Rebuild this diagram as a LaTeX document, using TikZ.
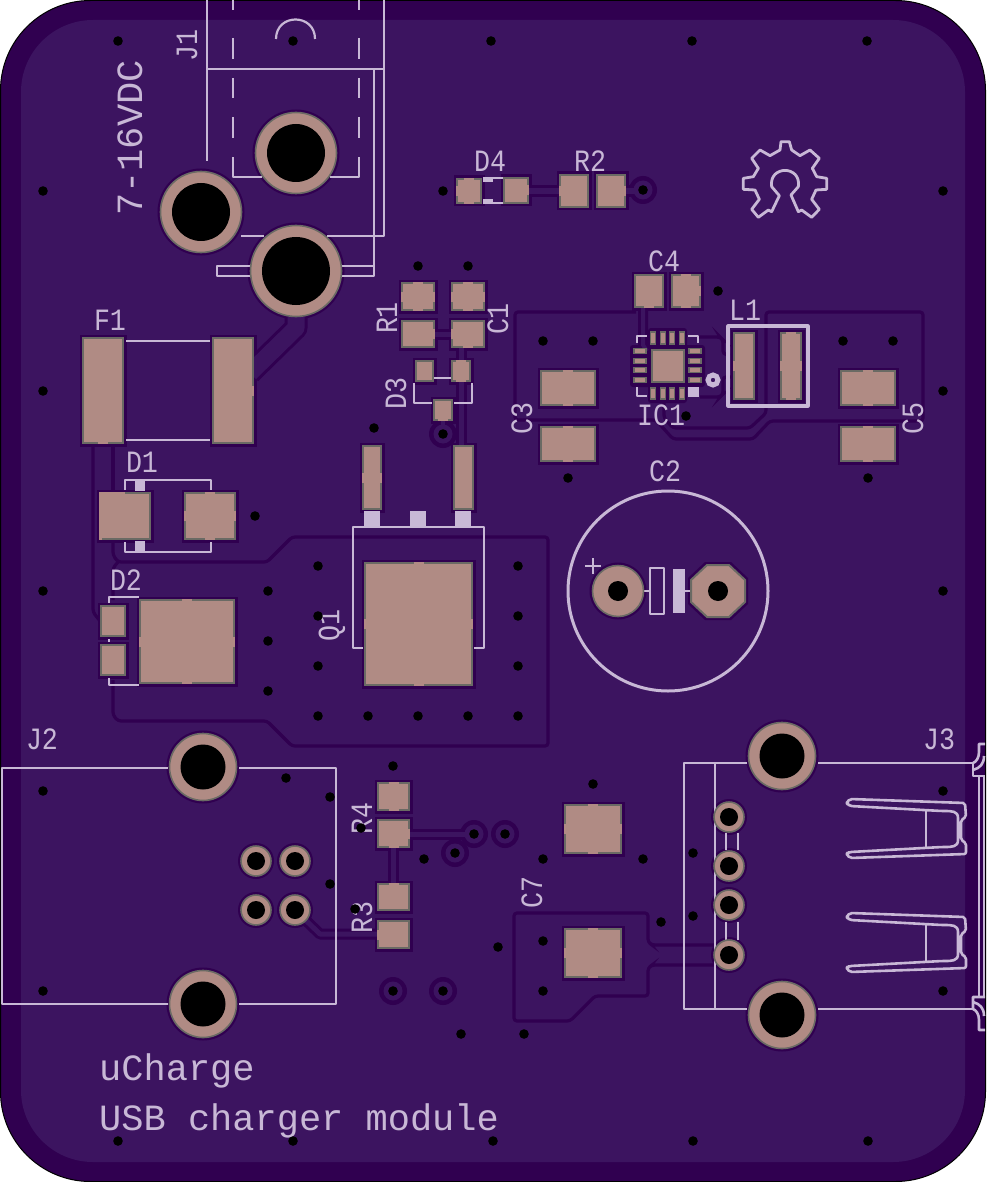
\documentclass[tikz,border=0pt]{standalone}
\usepackage{fontspec}
\newfontfamily\silkfont[FakeStretch=.86]{Liberation Mono}
\newfontfamily\notefont{Liberation Mono}

\definecolor{boardout}{HTML}{300050}
\definecolor{boardin}{HTML}{3C1460}
\definecolor{padcol}{HTML}{B08B84}
\definecolor{padedge}{HTML}{6A6A64}
\definecolor{silkcol}{HTML}{C8B8D6}

\pgfdeclarelayer{base}
\pgfdeclarelayer{halo}
\pgfdeclarelayer{copper}
\pgfsetlayers{base,halo,copper,main}

\tikzset{
    silk/.style={draw=silkcol,line width=2.6pt,line join=round},
    silkthin/.style={silk,line width=2.2pt},
    silkbar/.style={fill=silkcol},
    label/.style={text=silkcol,inner sep=0pt,font=\silkfont\fontsize{31}{31}\selectfont},
    note/.style={text=silkcol,inner sep=0pt,font=\notefont\fontsize{37}{37}\selectfont},
    pour/.style={draw=boardout,line width=3.2pt,rounded corners=3pt},
    padbody/.style={fill=padcol,draw=padedge,line width=2pt},
    padspoke/.style={fill=padcol}
}

\begin{document}
\begin{tikzpicture}[x=1pt,y=-1pt]
    % Pad with a dark clearance around it
    \def\pad#1#2#3#4{
        \begin{pgfonlayer}{halo}
            \fill[boardout] ({#1-2.5},{#2-2.5}) rectangle ({#3+2.5},{#4+2.5});
        \end{pgfonlayer}
        \draw[padbody] ({#1+1},{#2+1}) rectangle ({#3-1},{#4-1});
    }
    % Same, with the edge broken in the middle of the given sides
    \def\padg#1#2#3#4#5{
        \pad{#1}{#2}{#3}{#4}
        \pgfmathsetmacro\cx{(#1+#3)/2}
        \pgfmathsetmacro\cy{(#2+#4)/2}
        \foreach \side in {#5}{
            \if\side t \fill[padspoke] ({\cx-5},#2) rectangle ({\cx+5},{#2+2.5}); \fi
            \if\side b \fill[padspoke] ({\cx-5},{#4-2.5}) rectangle ({\cx+5},#4); \fi
            \if\side l \fill[padspoke] (#1,{\cy-5}) rectangle ({#1+2.5},{\cy+5}); \fi
            \if\side r \fill[padspoke] ({#3-2.5},{\cy-5}) rectangle (#3,{\cy+5}); \fi
        }
    }
    % Plated hole: x, y, outer radius, drill radius
    \def\hole#1#2#3#4{
        \begin{pgfonlayer}{halo}
            \fill[boardout] (#1,#2) circle[radius=#3pt+2.5pt];
        \end{pgfonlayer}
        \draw[padbody,line width=1.6pt] (#1,#2) circle[radius=#3pt-0.5pt];
        \fill[black] (#1,#2) circle[radius=#4pt];
    }
    % Via with a ring of clearance
    \def\ringvia#1#2{
        \begin{pgfonlayer}{halo}
            \fill[boardout] (#1,#2) circle[radius=14pt];
        \end{pgfonlayer}
        \begin{pgfonlayer}{copper}
            \fill[boardin] (#1,#2) circle[radius=9.5pt];
        \end{pgfonlayer}
        \fill[black] (#1,#2) circle[radius=4.8pt];
    }
    % Trace: lit width and the path
    \def\trace#1#2{
        \begin{pgfonlayer}{halo}
            \draw[boardout,line width=#1pt+6pt,line join=round] #2;
        \end{pgfonlayer}
        \begin{pgfonlayer}{copper}
            \draw[boardin,line width=#1pt,line join=round] #2;
        \end{pgfonlayer}
    }

    \useasboundingbox (0,0) rectangle (986,1182);

    % Board
    \begin{pgfonlayer}{base}
        \draw[black,fill=boardout,line width=1pt,rounded corners=90pt] (0.5,0.5) rectangle (985.5,1181.5);
        \fill[boardin,rounded corners=72pt] (21,20) rectangle (965,1162);
    \end{pgfonlayer}

    % Copper pour edges
    \begin{pgfonlayer}{halo}
        \draw[pour] (113,444) -- (113,491);
        \draw[pour] (113,541) -- (113,555) -- (118,562) -- (267,562) -- (292,537) -- (548,537)
            -- (548,746) -- (292,746) -- (267,721) -- (118,721) -- (113,715) -- (113,680);
        \draw[pour] (118,562) -- (113,568) -- (113,600);
        \draw[pour] (93,444) -- (93,612) -- (100,621);
        \draw[pour] (636,312) -- (515,312) -- (515,420) -- (656,420) -- (673,439) -- (753,439)
            -- (770,421) -- (923,421) -- (923,312) -- (766,312) -- (766,413) -- (750,428)
            -- (673,428) -- (664,418) -- (664,398);
        \draw[pour] (698,337) -- (720,337) -- (723,340) -- (723,354) -- (730,355);
        \draw[pour] (700,397) -- (720,397) -- (723,394) -- (723,377) -- (733,377);
        \draw[pour] (714,945) -- (652,945) -- (648,942) -- (648,913) -- (514,913) -- (514,1021)
            -- (570,1021) -- (595,996) -- (648,996) -- (648,968) -- (652,965) -- (714,965);
    \end{pgfonlayer}

    % Traces
    \trace{17}{(296,312) -- (296,328) -- (250,373)}
    \trace{6}{(529,191) -- (559,191)}
    \trace{6}{(626,191) -- (643,191)}
    \trace{5}{(435,334) -- (451,334)}
    \trace{5}{(461.5,348) -- (461.5,360)}
    \trace{5}{(461.5,382) -- (461.5,445)}
    \trace{4}{(443,420) -- (443,434)}
    \trace{4}{(643,308) -- (643,345) -- (647,351)}
    \trace{5}{(410,834) -- (474,834)}
    \trace{5}{(393.5,848) -- (393.5,883)}
    \trace{5}{(295,910) -- (320,934) -- (377,934)}

    % J1
    \draw[silkthin] (207,0) -- (207,161);
    \draw[silkthin] (384,0) -- (384,236) -- (327,236);
    \draw[silkthin] (207,69) -- (384,69);
    \draw[silkthin] (374,69) -- (374,276) -- (342,276);
    \draw[silkthin] (374,266) -- (342,266);
    \draw[silkthin] (241,236) -- (264,236);
    \draw[silkthin] (250,266) -- (217,266) -- (217,276) -- (250,276);
    \foreach \x in {233,359}{
        \foreach \ya/\yb in {0/10,38/59,78/98,117/138}{
            \draw[silkthin] (\x,\ya) -- (\x,\yb);
        }
    }
    \draw[silkthin] (262,177) -- (233,177) -- (233,157);
    \draw[silkthin] (330,177) -- (359,177) -- (359,157);
    \draw[silkthin] (276,39) .. controls (276,13) and (315,13) .. (315,39);

    % D4
    \fill[silkbar] (483,177) rectangle (493,182);
    \fill[silkbar] (483,199) rectangle (493,204);
    \draw[silkthin] (493,178) -- (503,178);
    \draw[silkthin] (493,203) -- (503,203);

    % F1, D1, D2
    \draw[silk] (126,341) -- (210,341);
    \draw[silk] (126,440) -- (210,440);
    \draw[silk] (125,490) -- (125,480) -- (211,480) -- (211,490);
    \draw[silk] (125,542) -- (125,552) -- (211,552) -- (211,542);
    \fill[silkbar] (135,480) rectangle (145,491);
    \fill[silkbar] (135,541) rectangle (145,552);
    \draw[silk] (109,603) -- (109,597) -- (139,597);
    \draw[silk] (109,678) -- (109,685) -- (139,685);
    \draw[silk] (109,639) -- (109,642);

    % Q1
    \draw[silk] (363,648) -- (353,648) -- (353,527) -- (484,527) -- (484,648) -- (474,648);
    \foreach \x in {364,410,455}{
        \fill[silkbar] (\x,511) rectangle ({\x+16},527);
    }

    % D3
    \draw[silk] (434,378) -- (451,378);
    \draw[silk] (414,383) -- (414,403) -- (432,403);
    \draw[silk] (472,383) -- (472,403) -- (454,403);

    % IC1 and L1
    \draw[silk] (637,343) -- (637,336) -- (647,336);
    \draw[silk] (688,336) -- (698,336) -- (698,343);
    \draw[silk] (637,387) -- (637,396) -- (647,396);
    \fill[silkbar] (688,387) rectangle (699,397);
    \draw[silkcol,line width=5pt] (713,380) circle[radius=5pt];
    \draw[silk,line width=3.2pt] (728,326) rectangle (808,406);

    % C2
    \draw[silk,line width=3pt] (668,591) circle[radius=100pt];
    \draw[silk] (644,591) -- (650,591);
    \draw[silk] (650,568) rectangle (664,614);
    \fill[silkbar] (673,569) rectangle (685,613);
    \draw[silk] (685,591) -- (692,591);
    \draw[silk] (585,566) -- (601,566);
    \draw[silk] (593,558) -- (593,574);

    % J2
    \draw[silk] (168,768) -- (2,768) -- (2,1004) -- (168,1004);
    \draw[silk] (239,768) -- (336,768) -- (336,1004) -- (239,1004);

    % J3
    \draw[silk] (747,763) -- (684,763) -- (684,1009) -- (747,1009);
    \draw[silk] (715,763) -- (715,1009);
    \draw[silk] (818,763) -- (973,763);
    \draw[silk] (818,1009) -- (973,1009);
    \foreach \x in {726,738}{
        \draw[silk] (\x,833) -- (\x,850);
        \draw[silk] (\x,922) -- (\x,940);
    }
    \foreach \dy in {0,114}{
        \begin{scope}[shift={(0,\dy)}]
            \draw[silk,rounded corners=2pt] (850,799) -- (965,803) -- (966,817) -- (961,820) -- (961,840)
                -- (966,843) -- (966,854) -- (850,858) -- (847,855) -- (847,853) -- (850,852) -- (942,847)
                .. controls (952,847) and (958,847) .. (958,838) -- (958,820)
                .. controls (958,811) and (952,811) .. (942,811) -- (850,806) -- (847,804) -- (847,802) -- cycle;
            \draw[silkthin] (926,811) -- (926,847);
        \end{scope}
    }
    \draw[silk] (973,763) -- (973,776) -- (985,776);
    \draw[silk] (979,776) -- (979,997);
    \draw[silk] (984,776) -- (984,997);
    \draw[silk] (985,744) -- (979,744) -- (979,752) .. controls (979,758) and (976,762) .. (973,763);
    \draw[silk] (973,770) .. controls (980,768) and (984,764) .. (984,756);
    \draw[silk] (985,997) -- (973,997) -- (973,1009) .. controls (976,1010) and (979,1014) .. (979,1020)
        -- (979,1030) -- (985,1030);
    \draw[silk] (973,1002) .. controls (980,1004) and (984,1008) .. (984,1016);

    % Open hardware gear
    \begin{scope}[shift={(730,130)},x=0.3333pt,y=-0.3333pt]
        \draw[silk,line width=2.8pt] (150,60) -- (153,35) -- (178,35) -- (185,60) -- (210,77) -- (240,60)
            -- (268,85) -- (247,115) -- (260,140) -- (290,145) -- (290,178) -- (258,180) -- (245,208)
            -- (268,238) -- (245,262) -- (215,240) -- (205,245) -- (183,195) -- (205,170)
            .. controls (215,105) and (115,105) .. (125,170) -- (148,197) -- (125,245) -- (115,240)
            -- (85,262) -- (65,238) -- (88,208) -- (75,180) -- (40,178) -- (40,145) -- (70,140)
            -- (85,115) -- (65,85) -- (90,60) -- (120,77) -- cycle;
    \end{scope}

    % Labels
    \node[label,rotate=90] (lblJone) at (187,46) {J1};
    \node[note,rotate=90] (lblDc) at (130,138) {7-16VDC};
    \node[label] (lblDfour) at (490,161) {D4};
    \node[label] (lblRtwo) at (590,161) {R2};
    \node[label] (lblCfour) at (664,261) {C4};
    \node[label] (lblLone) at (745,310) {L1};
    \node[label] (lblFone) at (110,320) {F1};
    \node[label,rotate=90] (lblRone) at (387,318) {R1};
    \node[label,rotate=90] (lblCone) at (498,319) {C1};
    \node[label,rotate=90] (lblDthree) at (396,393) {D3};
    \node[label,rotate=90] (lblCthree) at (522,418) {C3};
    \node[label,rotate=90] (lblCfive) at (913,418) {C5};
    \node[label] (lblIcone) at (661,415) {IC1};
    \node[label] (lblCtwo) at (665,471) {C2};
    \node[label] (lblDone) at (142,462) {D1};
    \node[label] (lblDtwo) at (126,580) {D2};
    \node[label,rotate=90] (lblQone) at (332,625) {Q1};
    \node[label] (lblJtwo) at (42,739) {J2};
    \node[label] (lblJthree) at (939,739) {J3};
    \node[label,rotate=90] (lblRfour) at (362,818) {R4};
    \node[label,rotate=90] (lblRthree) at (362,917) {R3};
    \node[label,rotate=90] (lblCseven) at (532,892) {C7};
    \node[note,anchor=base west] (lblName) at (99,1080) {uCharge};
    \node[note,anchor=base west] (lblText) at (99,1130) {USB charger module};

    % Pads
    \padg{456}{178}{482}{204}{t,b,l}
    \padg{503}{177}{529}{204}{r}
    \padg{559}{174}{589}{208}{l}
    \padg{596}{174}{626}{208}{r}
    \padg{401}{282}{435}{311}{t,b,l,r}
    \padg{451}{282}{485}{311}{t,b,l,r}
    \padg{401}{320}{435}{348}{r}
    \padg{451}{320}{485}{348}{l,b}
    \pad{415}{360}{434}{382}
    \padg{451}{360}{471}{382}{t,b}
    \padg{433}{399}{453}{421}{b}
    \padg{634}{274}{664}{308}{b}
    \padg{671}{274}{701}{308}{t,b,r}
    \padg{733}{332}{755}{400}{l}
    \padg{780}{332}{802}{400}{t,b,l,r}
    \foreach \y in {370,426}{
        \padg{540}{\y}{596}{\y+36}{t,b}
        \padg{840}{\y}{896}{\y+36}{t,b}
    }
    \padg{82}{337}{124}{444}{b}
    \padg{212}{337}{254}{444}{r}
    \padg{99}{492}{151}{540}{l}
    \fill[padspoke] (99,492) rectangle (125,495);
    \fill[padspoke] (99,492) rectangle (102,540);
    \padg{184}{492}{236}{540}{t,b,l,r}
    \pad{100}{605}{126}{637}
    \pad{100}{644}{126}{676}
    \padg{139}{599}{235}{684}{t,b,l,r}
    \padg{362}{445}{382}{510}{l,r}
    \pad{453}{445}{474}{510}
    \padg{364}{562}{473}{686}{t,b,l,r}
    \padg{377}{782}{410}{811}{t,b}
    \padg{377}{819}{410}{848}{r,b}
    \padg{377}{883}{410}{911}{t}
    \padg{377}{920}{410}{949}{l}
    \padg{564}{804}{622}{854}{t,b,l,r}
    \padg{564}{928}{622}{978}{t,b,l,r}

    % IC1 pads
    \pad{651}{349}{685}{383}
    \foreach \x in {653,663,672,682}{
        \draw[padbody,line width=1.4pt] ({\x-2.5},332) rectangle ({\x+2.5},344);
        \draw[padbody,line width=1.4pt] ({\x-2.5},388) rectangle ({\x+2.5},399);
    }
    \foreach \y in {351,361,370,380}{
        \draw[padbody,line width=1.4pt] (634,{\y-2.5}) rectangle (646,{\y+2.5});
        \draw[padbody,line width=1.4pt] (689,{\y-2.5}) rectangle (701,{\y+2.5});
    }
    \begin{pgfonlayer}{halo}
        \fill[boardout,rounded corners=3pt] (630,345) rectangle (705,387);
        \fill[boardout,rounded corners=3pt] (648,328) rectangle (687,403);
    \end{pgfonlayer}

    % Plated holes
    \hole{296}{153}{41}{29}
    \hole{201}{212}{41}{29}
    \hole{296}{271}{46}{34}
    \hole{203}{767}{34}{22.5}
    \hole{203}{1004}{34}{22.5}
    \hole{782}{756}{34}{22.5}
    \hole{782}{1015}{34}{22.5}
    \foreach \x/\y in {256/861,295/861,256/910,295/910,729/817,729/866,729/905,729/955}{
        \hole{\x}{\y}{15.5}{9}
    }
    \hole{618}{591}{26}{10}
    \begin{pgfonlayer}{halo}
        \fill[boardout] (705,562) -- (731,562) -- (748,578) -- (748,604) -- (731,620) -- (705,620) -- (688,604) -- (688,578) -- cycle;
    \end{pgfonlayer}
    \draw[padbody] (707,565) -- (729,565) -- (745,580) -- (745,602) -- (729,617) -- (707,617) -- (691,602) -- (691,580) -- cycle;
    \fill[black] (718,591) circle[radius=10pt];

    % Ring vias
    \foreach \x/\y in {643/190,443/434,474/834,505/834,455/853,393/991,443/991}{
        \ringvia{\x}{\y}
    }

    % Plain vias
    \foreach \x/\y in {118/41,293/41,491/41,692/41,867/41,43/191,43/391,43/591,443/191,943/191,
        943/391,943/591,418/266,468/266,718/291,543/341,593/341,843/341,893/341,686/416,568/478,
        868/478,374/428,255/516,318/566,268/591,318/616,268/641,318/666,268/691,318/716,368/716,
        418/716,468/716,518/716,518/566,518/616,518/666,393/766,593/784,43/791,286/778,330/797,
        330/884,361/828,424/859,355/909,498/947,43/991,461/1034,118/1141,293/1141,493/1141,
        693/1141,868/1141,543/859,643/859,543/941,543/991,524/1034,661/922,693/853,693/916,
        943/791,943/991}{
        \fill[black] (\x,\y) circle[radius=4.8pt];
    }
\end{tikzpicture}
\end{document}
